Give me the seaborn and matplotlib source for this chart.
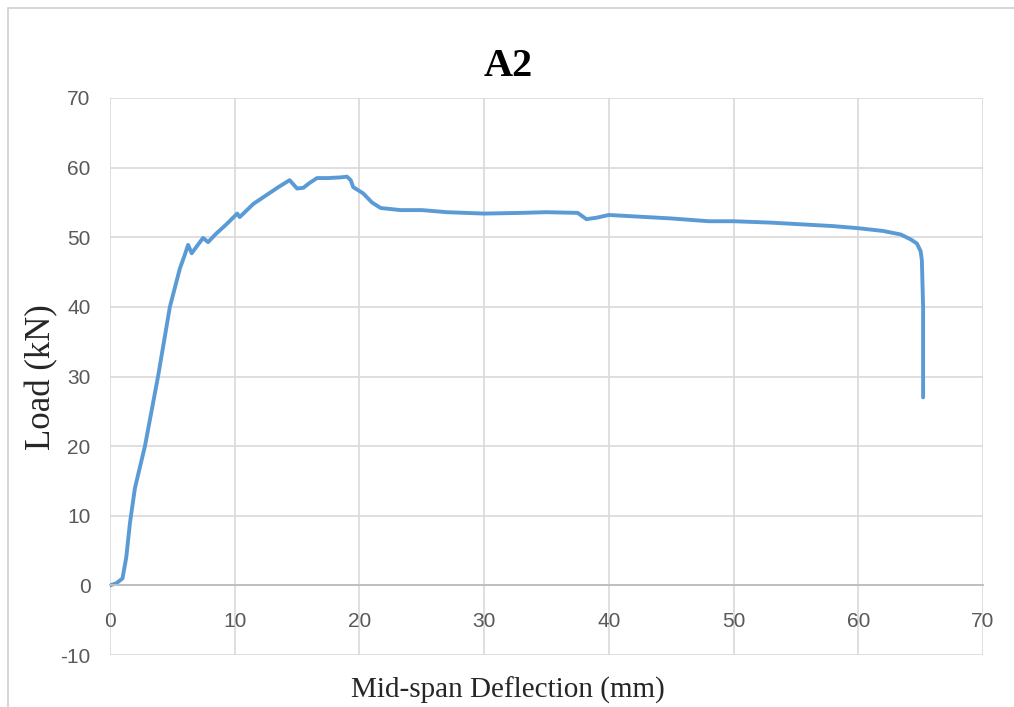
import numpy as np
import pandas as pd
import seaborn as sns
import matplotlib.pyplot as plt
from matplotlib.patches import Rectangle

# values
deflection = [0, 0.5, 1.0, 1.3, 1.6, 2.0, 2.8, 3.85, 4.8, 5.6,
              6.0, 6.26, 6.55, 7.0, 7.46, 7.86, 8.5, 9.3, 10.2, 10.4,
              11.5, 12.5, 13.5, 14.4, 14.7, 15.0, 15.5, 16.0, 16.6, 17.5,
              18.5, 19.0, 19.3, 19.5, 20.3, 21.0, 21.7, 23.3, 25.0, 27.0,
              30.0, 33.0, 35.0, 37.5, 38.2, 39.0, 40.0, 42.0, 45.0, 48.0,
              50.0, 53.0, 55.0, 58.0, 60.0, 62.0, 63.4, 64.2, 64.7, 65.0,
              65.1, 65.2, 65.2]
load = [0, 0.3, 1.0, 4.0, 9.0, 14.0, 20.0, 30.0, 40.0, 45.5,
        47.5, 48.9, 47.7, 48.8, 49.9, 49.3, 50.5, 51.8, 53.4, 52.9,
        54.8, 56.0, 57.2, 58.2, 57.6, 57.0, 57.1, 57.8, 58.5, 58.5,
        58.6, 58.7, 58.2, 57.2, 56.3, 55.0, 54.2, 53.9, 53.9, 53.6,
        53.4, 53.5, 53.6, 53.5, 52.6, 52.8, 53.2, 53.0, 52.7, 52.3,
        52.3, 52.1, 51.9, 51.6, 51.3, 50.9, 50.4, 49.7, 49.1, 48.0,
        46.7, 40.0, 27.0]
x_ticks = [0, 10, 20, 30, 40, 50, 60, 70]
y_ticks = [-10, 0, 10, 20, 30, 40, 50, 60, 70]

df = pd.DataFrame({"Deflection": deflection, "Load": load})

sns.set_theme(style="white")
plt.rcParams['font.family'] = ['Liberation Sans', 'DejaVu Sans']
plt.rcParams['axes.unicode_minus'] = False

fig = plt.figure(figsize=(10.14, 7.07), dpi=100)
ax = fig.add_axes([0.1085, 0.0735, 0.8609, 0.7879])

sns.lineplot(data=df, x="Deflection", y="Load", sort=False, estimator=None,
             color="#5b9bd5", linewidth=2.8, ax=ax)

ax.set_xlim(0, 70)
ax.set_ylim(-10, 70)
ax.set_xticks(x_ticks)
ax.set_yticks(y_ticks)
ax.grid(True, color="#d9d9d9", linewidth=1.2)
ax.set_axisbelow(True)

for s in ["top", "right", "left"]:
    ax.spines[s].set_visible(False)
ax.spines["bottom"].set_position(("data", 0))
ax.spines["bottom"].set_color("#bfbfbf")
ax.spines["bottom"].set_linewidth(1.4)

ax.tick_params(axis="both", length=0, labelsize=15, labelcolor="#595959")
ax.tick_params(axis="x", pad=19)
ax.tick_params(axis="y", pad=14)

ax.set_xlabel("")
ax.set_ylabel("")
serif = ['Liberation Serif', 'DejaVu Serif']
fig.text(0.501, 0.024, "Mid-span Deflection (mm)", family=serif,
         fontsize=21, color="#262626", ha="center", va="center")
fig.text(0.041, 0.466, "Load (kN)", family=serif, fontsize=25,
         color="#262626", rotation=90, ha="center", va="center")
fig.text(0.501, 0.906, "A2", family=serif, fontsize=29,
         fontweight="bold", color="black", ha="center", va="center")

# thin frame around the picture
fig.patches.append(Rectangle((0.008, -0.01), 1.0, 0.999, transform=fig.transFigure,
                             fill=False, edgecolor="#d0d0d0", linewidth=1.2))

fig.savefig("out.png", dpi=100)
